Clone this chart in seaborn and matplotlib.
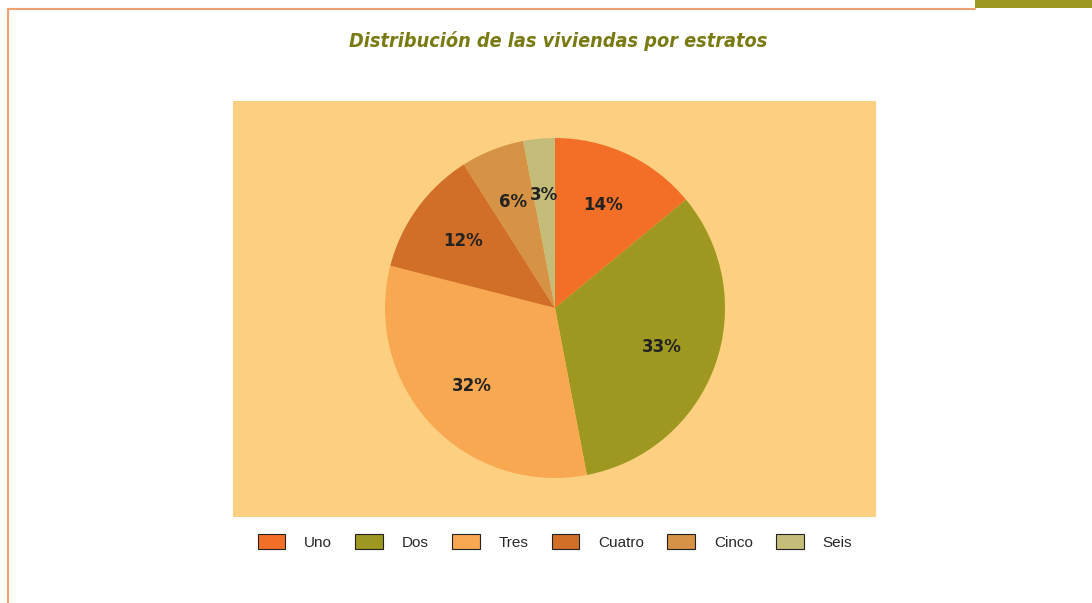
import matplotlib
matplotlib.use("Agg")
import matplotlib.pyplot as plt
from matplotlib.patches import Patch, Rectangle
from matplotlib.lines import Line2D
import seaborn as sns

# data
estratos = ["Uno", "Dos", "Tres", "Cuatro", "Cinco", "Seis"]
porcentajes = [14, 33, 32, 12, 6, 3]
colores = ["#F36F27", "#9E9720", "#F8A850", "#D16E27", "#D69245", "#C4BD7A"]
titulo = "Distribución de las viviendas por estratos"

sns.set_theme(style="white")
palette = sns.color_palette(colores)

fig = plt.figure(figsize=(10.92, 6.03), dpi=100)
fig.patch.set_facecolor("white")

# plot area in pixels: x 233..876, y 101..517
ax = fig.add_axes([233 / 1092, 86 / 603, 643 / 1092, 416 / 603])
ax.set_facecolor("#FDCF80")

wedges, texts, autotexts = ax.pie(
    porcentajes, colors=palette, startangle=90, counterclock=False,
    radius=1.0, autopct="%d%%", pctdistance=0.67,
    wedgeprops=dict(linewidth=0),
    textprops=dict(fontsize=12, fontweight="semibold", color="#222222"),
)
scale = 170.0
ax.set_aspect("auto")
ax.set_xlim(-(555 - 233) / scale, (876 - 555) / scale)
ax.set_ylim(-(517 - 308) / scale, (308 - 101) / scale)
ax.set_frame_on(True)
for s in ax.spines.values():
    s.set_visible(False)
ax.set_xticks([])
ax.set_yticks([])

fig.text(558 / 1092, 1 - 41 / 603, titulo, ha="center", va="center",
         fontsize=14.2, fontweight="bold", fontstyle="italic",
         fontstretch="condensed", color="#7A7A12")

handles = [Patch(facecolor=c, edgecolor="#222222", linewidth=0.8) for c in colores]
fig.legend(handles, estratos, loc="center", bbox_to_anchor=(555 / 1092, 1 - 542 / 603),
           ncol=6, frameon=False, handlelength=1.8, handleheight=1.05,
           handletextpad=1.25, columnspacing=1.52,
           prop=dict(family=["Liberation Sans", "DejaVu Sans"], size=11))

# page frame
line_col = "#F2A070"
fig.add_artist(Line2D([8 / 1092, 975 / 1092], [1 - 9 / 603, 1 - 9 / 603],
                      color=line_col, linewidth=1.5, transform=fig.transFigure))
fig.add_artist(Line2D([8 / 1092, 8 / 1092], [1 - 9 / 603, 0],
                      color=line_col, linewidth=1.5, transform=fig.transFigure))
fig.add_artist(Rectangle((975 / 1092, 1 - 8 / 603), 117 / 1092, 8 / 603,
                         facecolor="#9E9720", edgecolor="none", transform=fig.transFigure))

fig.savefig("out.png", dpi=100)
